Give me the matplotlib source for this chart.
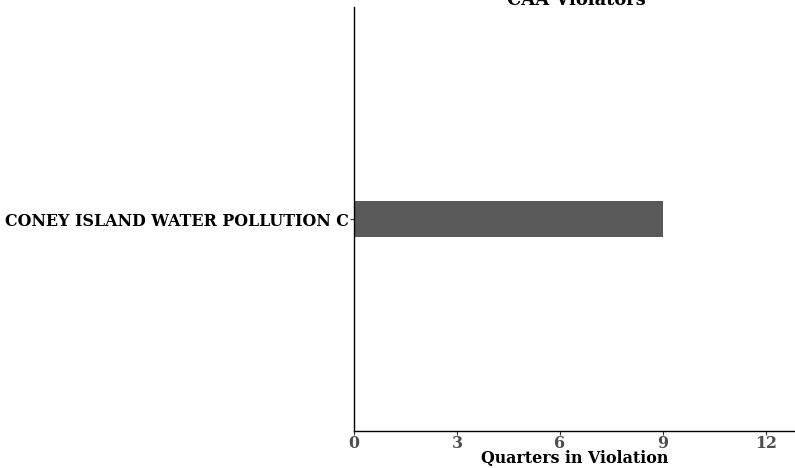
import numpy as np
import matplotlib.pyplot as plt

# data
facilities = ["CONEY ISLAND WATER POLLUTION C"]
quarters = [9]
xticks = [0, 3, 6, 9, 12]

plt.rcParams['font.family'] = 'DejaVu Serif'
plt.rcParams['font.weight'] = 'bold'

fig = plt.figure(figsize=(7.95, 4.68), dpi=100)
ax = fig.add_axes([354 / 795, 37 / 468, 1 - 354 / 795, 424 / 468])

ypos = np.arange(len(facilities)) + 1
ax.barh(ypos, quarters, height=0.102, color="#595959")

ax.set_xlim(0, 12.85)
ax.set_ylim(0.4, 1.6)
ax.set_xticks(xticks)
ax.set_xticklabels([str(t) for t in xticks], fontsize=11.4, color="#4d4d4d", fontweight="bold")
ax.set_yticks(ypos)
ax.set_yticklabels(facilities, fontsize=11.4, color="black", fontweight="bold")
ax.tick_params(axis="both", length=3, width=0.8, color="#333333", pad=1)
ax.tick_params(axis="x", pad=0)

for s in ["top", "right"]:
    ax.spines[s].set_visible(False)
for s in ["left", "bottom"]:
    ax.spines[s].set_linewidth(1.0)
    ax.spines[s].set_color("black")

ax.set_xlabel("Quarters in Violation", fontsize=11.4, fontweight="bold", labelpad=-1.5)
fig.text(0.725, 1.0, "CAA Violators", ha="center", va="center", fontsize=12.9, fontweight="bold")

fig.savefig("out.png", dpi=100)
